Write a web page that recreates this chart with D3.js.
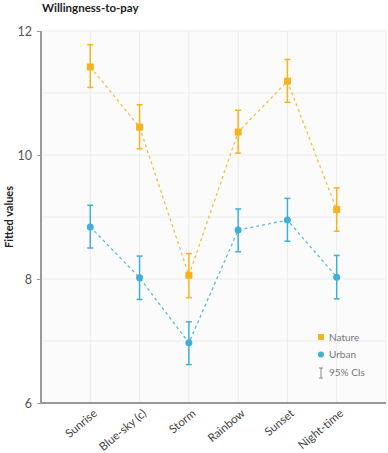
<!DOCTYPE html>
<html>
<head>
<meta charset="utf-8">
<script src="https://cdn.jsdelivr.net/npm/d3@7"></script>
<style>
  body { margin: 0; background: #fff; font-family: Lato, "Open Sans", sans-serif; }
</style>
</head>
<body>
<div id="chart"></div>
<script>
(function() {

  var categories = ['Sunrise', 'Blue-sky (c)', 'Storm', 'Rainbow', 'Sunset', 'Night-time'];

  var natureValues = [11.42, 10.45, 8.06, 10.37, 11.19, 9.12];
  var natureLow    = [11.09, 10.10, 7.70, 10.03, 10.85, 8.77];
  var natureHigh   = [11.78, 10.81, 8.41, 10.72, 11.54, 9.47];

  var urbanValues = [8.84, 8.02, 6.97, 8.79, 8.95, 8.03];
  var urbanLow    = [8.50, 7.67, 6.62, 8.44, 8.61, 7.68];
  var urbanHigh   = [9.19, 8.37, 7.31, 9.13, 9.30, 8.38];

  var yTicks = [6, 8, 10, 12];
  var yGrid = [7, 8, 9, 10, 11, 12];

  var width = 388, height = 453;
  var margin = {top: 31, right: 2, bottom: 50, left: 41};

  var svg = d3.select('#chart')
              .append('svg')
              .attr('width', width)
              .attr('height', height);

  var x = d3.scalePoint()
    .domain([''].concat(categories).concat([' ']))
    .range([margin.left, width - margin.right]);

  var y = d3.scaleLinear()
    .domain([6, 12])
    .range([height - margin.bottom, margin.top]);

  // plot background
  svg.append('rect')
    .attr('x', margin.left)
    .attr('y', margin.top)
    .attr('width', width - margin.right - margin.left)
    .attr('height', height - margin.bottom - margin.top)
    .attr('fill', '#fbfbfb');

  // grid
  svg.append('g').selectAll('line')
    .data(yGrid)
    .enter()
    .append('line')
    .attr('x1', margin.left)
    .attr('x2', width - margin.right)
    .attr('y1', function(d) {return y(d)})
    .attr('y2', function(d) {return y(d)})
    .attr('stroke', '#ececec');

  svg.append('g').selectAll('line')
    .data(categories.concat([' ']))
    .enter()
    .append('line')
    .attr('x1', function(d) {return x(d)})
    .attr('x2', function(d) {return x(d)})
    .attr('y1', margin.top)
    .attr('y2', height - margin.bottom)
    .attr('stroke', '#ececec');

  // axes
  var yAxis = svg.append('g')
    .attr('transform', 'translate(' + margin.left + ',0)')
    .call(d3.axisLeft(y).tickValues(yTicks).tickSize(4).tickFormat(d3.format('d')));
  yAxis.select('.domain').remove();
  yAxis.selectAll('.tick line').attr('stroke', '#999');
  yAxis.selectAll('text')
    .attr('fill', '#555')
    .attr('font-size', 12.5)
    .attr('font-family', 'Lato, sans-serif')
    .attr('dx', -2);

  svg.append('line')
    .attr('x1', margin.left).attr('x2', margin.left)
    .attr('y1', margin.top).attr('y2', height - margin.bottom + 1)
    .attr('stroke', '#999').attr('stroke-width', 2);
  svg.append('line')
    .attr('x1', margin.left).attr('x2', width - margin.right)
    .attr('y1', height - margin.bottom).attr('y2', height - margin.bottom)
    .attr('stroke', '#999').attr('stroke-width', 2);

  // x labels
  svg.append('g').selectAll('text')
    .data(categories)
    .enter()
    .append('text')
    .attr('transform', function(d) {
      return 'translate(' + (x(d) + 2) + ',' + (height - margin.bottom + 5) + ') rotate(-40)';
    })
    .attr('text-anchor', 'end')
    .attr('dy', '0.75em')
    .attr('fill', '#444')
    .attr('font-size', 11.5)
    .text(function(d) {return d});

  // titles
  svg.append('text')
    .attr('x', 42).attr('y', 12)
    .attr('font-size', 11.5)
    .attr('font-weight', 'bold')
    .attr('fill', '#222')
    .text('Willingness-to-pay');

  svg.append('text')
    .attr('transform', 'translate(13,' + y(9) + ') rotate(-90)')
    .attr('text-anchor', 'middle')
    .attr('font-size', 11)
    .attr('font-weight', 'bold')
    .attr('fill', '#222')
    .text('Fitted values');

  var series = [
    {name: 'Urban', color: '#3fb0d8', values: urbanValues, low: urbanLow, high: urbanHigh, shape: 'circle'},
    {name: 'Nature', color: '#f6b320', values: natureValues, low: natureLow, high: natureHigh, shape: 'square'}
  ];

  series.forEach(function(s) {
    var g = svg.append('g');
    var pts = categories.map(function(c, i) {return {c: c, v: s.values[i], lo: s.low[i], hi: s.high[i]}});

    g.append('path')
      .datum(pts)
      .attr('fill', 'none')
      .attr('stroke', s.color)
      .attr('stroke-opacity', 0.85)
      .attr('stroke-width', 1.3)
      .attr('stroke-dasharray', '3,3')
      .attr('d', d3.line().x(function(d) {return x(d.c)}).y(function(d) {return y(d.v)}));

    var bars = g.selectAll('.ci')
      .data(pts)
      .enter()
      .append('g')
      .attr('stroke', s.color)
      .attr('stroke-width', 1.5);
    bars.append('line')
      .attr('x1', function(d) {return x(d.c)}).attr('x2', function(d) {return x(d.c)})
      .attr('y1', function(d) {return y(d.lo)}).attr('y2', function(d) {return y(d.hi)});
    bars.append('line')
      .attr('x1', function(d) {return x(d.c) - 3}).attr('x2', function(d) {return x(d.c) + 3})
      .attr('y1', function(d) {return y(d.lo)}).attr('y2', function(d) {return y(d.lo)});
    bars.append('line')
      .attr('x1', function(d) {return x(d.c) - 3}).attr('x2', function(d) {return x(d.c) + 3})
      .attr('y1', function(d) {return y(d.hi)}).attr('y2', function(d) {return y(d.hi)});

    if (s.shape === 'circle') {
      g.selectAll('circle').data(pts).enter().append('circle')
        .attr('cx', function(d) {return x(d.c)})
        .attr('cy', function(d) {return y(d.v)})
        .attr('r', 3.5)
        .attr('fill', s.color);
    } else {
      g.selectAll('rect.pt').data(pts).enter().append('rect')
        .attr('x', function(d) {return x(d.c) - 3.5})
        .attr('y', function(d) {return y(d.v) - 3.5})
        .attr('width', 7).attr('height', 7)
        .attr('fill', s.color);
    }
  });

  // legend
  var legend = svg.append('g').attr('font-size', 10).attr('fill', '#777');
  legend.append('rect').attr('x', 318).attr('y', 334).attr('width', 6).attr('height', 6).attr('fill', '#f6b320');
  legend.append('text').attr('x', 329).attr('y', 341).text('Nature');
  legend.append('circle').attr('cx', 321).attr('cy', 354.5).attr('r', 3).attr('fill', '#3fb0d8');
  legend.append('text').attr('x', 329).attr('y', 358).text('Urban');
  var ci = legend.append('g').attr('stroke', '#888').attr('stroke-width', 1);
  ci.append('line').attr('x1', 321).attr('x2', 321).attr('y1', 368).attr('y2', 378);
  ci.append('line').attr('x1', 319).attr('x2', 323).attr('y1', 368).attr('y2', 368);
  ci.append('line').attr('x1', 319).attr('x2', 323).attr('y1', 378).attr('y2', 378);
  legend.append('text').attr('x', 329).attr('y', 376).text('95% CIs');

})()
</script>
</body>
</html>
